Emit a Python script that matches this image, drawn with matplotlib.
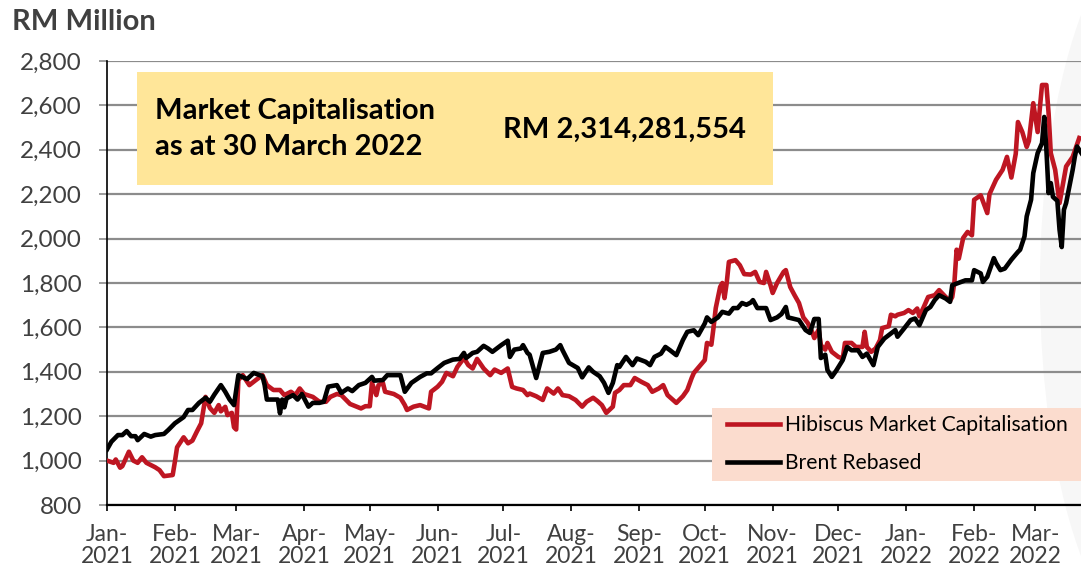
import matplotlib
matplotlib.use("Agg")
import matplotlib.pyplot as plt
import matplotlib.dates as mdates
from matplotlib.patches import Rectangle, Ellipse
import pandas as pd

plt.rcParams['font.family'] = ['Lato', 'DejaVu Sans']

# days since 1 Jan 2021, values in RM million
hib_day = [0, 3, 4, 6, 7, 10, 12, 14, 16, 18, 22, 24, 26, 30, 31, 32, 35, 37, 39, 41,
           43, 45, 47, 49, 51, 52, 54, 55, 57, 58, 59, 60, 62, 65, 68, 71, 73, 76, 79, 81,
           84, 86, 88, 90, 94, 97, 100, 102, 105, 107, 111, 114, 116, 118, 120, 121, 123, 124, 126, 127,
           131, 134, 136, 137, 140, 143, 147, 148, 151, 153, 155, 158, 160, 163, 165, 167, 169, 172, 175, 177,
           180, 183, 185, 187, 190, 192, 193, 196, 199, 201, 204, 206, 208, 211, 214, 217, 219, 222, 224, 226,
           228, 231, 232, 234, 236, 239, 241, 244, 247, 249, 252, 254, 256, 260, 263, 265, 267, 268, 271, 273,
           274, 276, 277, 278, 280, 281, 282, 283, 284, 287, 289, 291, 294, 296, 298, 300, 301, 303, 304, 306,
           309, 310, 312, 314, 316, 318, 320, 322, 323, 325, 326, 328, 329, 331, 334, 336, 337, 340, 342, 345,
           346, 347, 349, 351, 353, 354, 357, 358, 360, 361, 364, 366, 368, 370, 371, 373, 375, 378, 380, 383,
           385, 386, 387, 388, 389, 391, 393, 395, 396, 399, 402, 403, 406, 409, 411, 413, 415, 416, 418, 420,
           421, 423, 425, 427, 429, 430, 431, 433, 435, 438, 441, 444]
hib_val = [1000, 990, 1005, 968, 975, 1040, 1000, 990, 1015, 990, 970, 957, 930, 935, 995, 1060, 1105, 1078, 1090, 1130,
           1168, 1287, 1237, 1215, 1250, 1222, 1242, 1205, 1215, 1150, 1140, 1363, 1385, 1340, 1363, 1385, 1340, 1318, 1318, 1295,
           1310, 1295, 1325, 1300, 1287, 1265, 1265, 1287, 1300, 1295, 1255, 1243, 1235, 1245, 1245, 1350, 1295, 1340, 1350, 1310,
           1300, 1283, 1250, 1228, 1243, 1250, 1235, 1310, 1333, 1355, 1395, 1380, 1422, 1462, 1430, 1415, 1458, 1415, 1385, 1410,
           1395, 1415, 1332, 1325, 1318, 1295, 1302, 1290, 1273, 1325, 1302, 1325, 1295, 1290, 1273, 1243, 1265, 1283, 1268, 1250,
           1215, 1243, 1305, 1318, 1340, 1340, 1372, 1355, 1340, 1310, 1325, 1340, 1295, 1260, 1290, 1318, 1372, 1395, 1430, 1453,
           1530, 1522, 1600, 1687, 1782, 1800, 1732, 1800, 1895, 1903, 1880, 1840, 1838, 1850, 1805, 1800, 1850, 1790, 1755, 1800,
           1850, 1858, 1782, 1745, 1710, 1645, 1620, 1580, 1552, 1590, 1520, 1500, 1530, 1490, 1467, 1460, 1530, 1530, 1512, 1512,
           1580, 1512, 1490, 1505, 1543, 1597, 1605, 1657, 1650, 1657, 1665, 1678, 1665, 1685, 1650, 1692, 1737, 1745, 1768, 1737,
           1720, 1737, 1805, 1950, 1910, 2003, 2030, 2015, 2175, 2195, 2115, 2200, 2265, 2310, 2368, 2275, 2382, 2525, 2480, 2413,
           2440, 2610, 2480, 2692, 2692, 2565, 2385, 2310, 2160, 2325, 2368, 2453]

brent_day = [0, 2, 5, 7, 9, 11, 13, 14, 17, 20, 22, 26, 28, 31, 35, 37, 39, 42, 45, 47,
             49, 52, 54, 56, 58, 60, 64, 67, 71, 72, 73, 76, 78, 79, 80, 81, 82, 85, 87, 89,
             92, 94, 97, 99, 101, 105, 107, 110, 112, 115, 118, 121, 122, 126, 128, 134, 136, 139, 143, 146,
             148, 151, 154, 158, 161, 163, 164, 167, 169, 172, 174, 176, 180, 183, 184, 186, 189, 190, 192, 193,
             196, 199, 202, 205, 207, 208, 211, 215, 217, 220, 222, 225, 227, 229, 231, 233, 234, 237, 240, 242,
             246, 248, 250, 253, 255, 257, 260, 263, 265, 268, 270, 273, 274, 276, 279, 281, 284, 286, 288, 290,
             292, 294, 295, 297, 301, 303, 306, 308, 310, 311, 314, 316, 319, 321, 323, 325, 326, 328, 329, 331,
             333, 336, 338, 340, 343, 345, 347, 350, 352, 355, 358, 360, 361, 364, 367, 369, 371, 374, 376, 378,
             380, 383, 385, 386, 390, 392, 395, 396, 399, 400, 402, 405, 406, 408, 410, 413, 416, 417, 419, 420,
             422, 423, 425, 427, 428, 429, 430, 431, 432, 434, 435, 436, 437, 438, 441, 442, 443, 445]
brent_val = [1050, 1085, 1115, 1115, 1133, 1110, 1110, 1092, 1120, 1108, 1115, 1120, 1138, 1168, 1196, 1228, 1228, 1260, 1283, 1265,
             1297, 1340, 1310, 1275, 1250, 1385, 1367, 1395, 1380, 1340, 1275, 1275, 1275, 1213, 1275, 1240, 1280, 1295, 1275, 1300,
             1243, 1260, 1260, 1265, 1333, 1340, 1305, 1325, 1313, 1340, 1350, 1377, 1360, 1363, 1385, 1385, 1310, 1350, 1377, 1393,
             1393, 1417, 1440, 1455, 1458, 1485, 1462, 1485, 1490, 1517, 1505, 1490, 1520, 1540, 1467, 1500, 1505, 1520, 1485, 1477,
             1372, 1485, 1490, 1500, 1520, 1498, 1440, 1417, 1375, 1420, 1400, 1380, 1350, 1305, 1350, 1430, 1422, 1467, 1430, 1460,
             1445, 1430, 1467, 1482, 1512, 1498, 1475, 1543, 1580, 1587, 1565, 1618, 1645, 1625, 1645, 1670, 1662, 1687, 1687, 1710,
             1702, 1712, 1723, 1687, 1687, 1633, 1645, 1660, 1692, 1645, 1638, 1633, 1588, 1575, 1638, 1638, 1462, 1477, 1408, 1377,
             1405, 1453, 1512, 1497, 1497, 1467, 1482, 1430, 1512, 1550, 1573, 1588, 1558, 1595, 1633, 1640, 1610, 1678, 1692, 1723,
             1745, 1730, 1715, 1790, 1805, 1812, 1812, 1858, 1843, 1805, 1828, 1912, 1890, 1858, 1865, 1905, 1940, 1950, 2010, 2100,
             2175, 2295, 2385, 2430, 2548, 2400, 2205, 2250, 2188, 2170, 2040, 1962, 2130, 2160, 2310, 2370, 2415, 2385]

start = pd.Timestamp('2021-01-01')
hib_dates = start + pd.to_timedelta(hib_day, unit='D')
brent_dates = start + pd.to_timedelta(brent_day, unit='D')

grey = '#404040'
fig = plt.figure(figsize=(10.81, 5.71), dpi=100)

# faint grey shape at the right edge, behind everything
fig.patches.append(Ellipse((1170 / 1081, 0.5), 260 / 1081, 1.3, transform=fig.transFigure,
                           facecolor='#F7F7F7', edgecolor='none', zorder=-1))

ax = fig.add_axes([107 / 1081, 1 - 505 / 571, 1 - 107 / 1081, 444 / 571])
ax.set_facecolor('none')

ax.plot(hib_dates, hib_val, color='#BE1622', lw=3.3, label='Hibiscus Market Capitalisation', zorder=3)
ax.plot(brent_dates, brent_val, color='black', lw=3.3, label='Brent Rebased', zorder=4)

ax.set_ylim(800, 2800)
ax.set_yticks(range(800, 2801, 200))
ax.yaxis.set_major_formatter(matplotlib.ticker.FuncFormatter(lambda v, p: f'{int(v):,}'))
ax.set_xlim(start, start + pd.Timedelta(days=444.8))
ax.xaxis.set_major_locator(mdates.MonthLocator())
ax.xaxis.set_major_formatter(mdates.DateFormatter('%b-\n%Y'))

ax.grid(axis='y', color='#8C8C8C', lw=1.6, zorder=0)
ax.set_axisbelow(True)
for s in ['top', 'right']:
    ax.spines[s].set_visible(False)
ax.spines['left'].set_color('black')
ax.spines['left'].set_linewidth(1.2)
ax.spines['bottom'].set_color('black')
ax.spines['bottom'].set_linewidth(1.6)

ax.tick_params(axis='y', length=6, width=1.2, color='#8C8C8C', pad=12, labelsize=17.5, labelcolor=grey)
ax.tick_params(axis='x', length=4.5, width=1.2, color='black', pad=9, labelsize=16.5, labelcolor=grey)
for lab in ax.get_xticklabels():
    lab.set_linespacing(1.1)

fig.text(12 / 1081, 1 - 22 / 571, 'RM Million', fontsize=21, fontweight='bold', color=grey,
         ha='left', va='center')

# yellow call-out box
fig.patches.append(Rectangle((137 / 1081, 1 - 185 / 571), 636 / 1081, 113 / 571,
                             transform=fig.transFigure, facecolor='#FFE699', edgecolor='none', zorder=5))
fig.text(155 / 1081, 1 - 129 / 571, 'Market Capitalisation\nas at 30 March 2022', fontsize=21,
         fontweight='bold', color='black', ha='left', va='center', linespacing=1.45, zorder=6)
fig.text(503 / 1081, 1 - 130 / 571, 'RM 2,314,281,554', fontsize=21, fontweight='bold',
         color='black', ha='left', va='center', zorder=6)

# legend box
ax.add_patch(Rectangle((712 / 1081, 1 - 481 / 571), 369 / 1081, 73 / 571, transform=fig.transFigure,
                       facecolor='#FBDCCE', edgecolor='none', zorder=2.5, clip_on=False))
leg = ax.legend(loc='upper left', bbox_to_anchor=(727 / 1081, 1 - 415 / 571),
                bbox_transform=fig.transFigure, fontsize=15.2, frameon=False,
                handlelength=2.5, handletextpad=0.25, labelspacing=0.85, borderpad=0,
                borderaxespad=0)
leg.set_zorder(6)

fig.savefig('out.png', dpi=100)
